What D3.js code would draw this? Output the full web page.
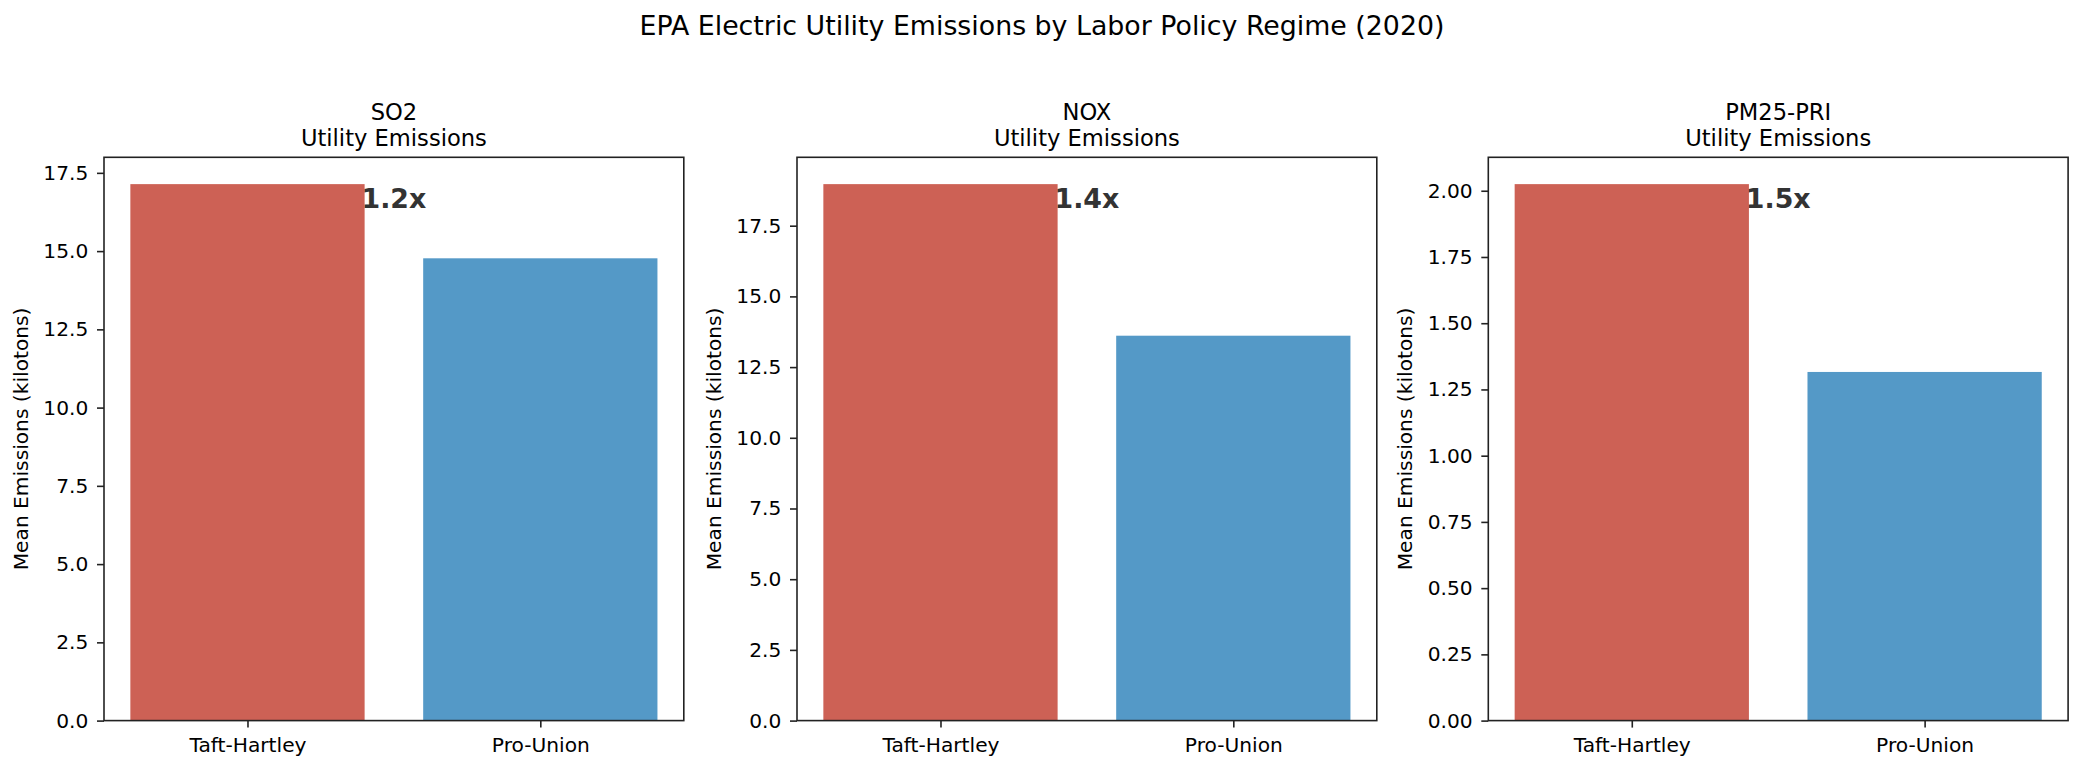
<!DOCTYPE html>
<html>
<head>
<meta charset="utf-8">
<script src="https://cdn.jsdelivr.net/npm/d3@7"></script>
<style>
  html, body { margin: 0; padding: 0; background: #fff; }
  svg { display: block; }
  text { font-family: "DejaVu Sans", sans-serif; }
</style>
</head>
<body>
<svg id="chart" width="2084" height="771"></svg>
<script>
// ---- data ----
const categories = ["Taft-Hartley", "Pro-Union"];
const pollutants = ["SO2", "NOX", "PM25-PRI"];
const taftHartley = [17.14, 18.97, 2.025];
const proUnion = [14.77, 13.61, 1.316];
const yTicksSO2 = [0, 2.5, 5, 7.5, 10, 12.5, 15, 17.5];
const yTicksNOX = [0, 2.5, 5, 7.5, 10, 12.5, 15, 17.5];
const yTicksPM = [0, 0.25, 0.5, 0.75, 1, 1.25, 1.5, 1.75, 2];
const yTickDecimals = [1, 1, 2];
const suptitle = "EPA Electric Utility Emissions by Labor Policy Regime (2020)";
const subtitle = "Utility Emissions";
const yLabel = "Mean Emissions (kilotons)";

// ---- layout ----
const W = 2084, H = 771;
const panelLefts = [104, 797, 1488.3];
const panelW = 579.8;
const plotTop = 157.3, plotBottom = 720.6;
const colors = ["#CD6155", "#5499C7"];
const yTicksAll = [yTicksSO2, yTicksNOX, yTicksPM];

const svg = d3.select("#chart");

svg.append("text")
  .attr("x", W / 2).attr("y", 35)
  .attr("text-anchor", "middle")
  .attr("font-size", "26.8px")
  .attr("fill", "#000")
  .text(suptitle);

pollutants.forEach((p, i) => {
  const left = panelLefts[i];
  const vals = [taftHartley[i], proUnion[i]];
  const ymax = d3.max(vals) * 1.05;
  const x = d3.scaleLinear().domain([-0.49, 1.49]).range([left, left + panelW]);
  const y = d3.scaleLinear().domain([0, ymax]).range([plotBottom, plotTop]);
  const g = svg.append("g");

  // bars
  g.selectAll("rect.bar").data(vals).enter().append("rect")
    .attr("class", "bar")
    .attr("x", (d, j) => x(j - 0.4))
    .attr("width", (d, j) => x(j + 0.4) - x(j - 0.4))
    .attr("y", d => y(d))
    .attr("height", d => y(0) - y(d))
    .attr("fill", (d, j) => colors[j]);

  // ratio annotation
  const ratio = (vals[0] / vals[1]).toFixed(1) + "x";
  g.append("text")
    .attr("x", x(0.5))
    .attr("y", y(vals[0]) + 23.5)
    .attr("text-anchor", "middle")
    .attr("font-size", "26.8px")
    .attr("font-weight", "bold")
    .attr("fill", "#333333")
    .text(ratio);

  // y axis
  const yAxis = d3.axisLeft(y)
    .tickValues(yTicksAll[i])
    .tickFormat(d3.format("." + yTickDecimals[i] + "f"))
    .tickSize(7).tickPadding(8.7);
  const ya = g.append("g").attr("transform", `translate(${left},0)`).call(yAxis);
  ya.select(".domain").remove();
  ya.selectAll(".tick line").attr("stroke", "#222").attr("stroke-width", 1.6);
  ya.selectAll(".tick text").attr("font-size", "20.2px").attr("fill", "#000")
    .attr("font-family", "DejaVu Sans");

  // x axis
  const xAxis = d3.axisBottom(x)
    .tickValues([0, 1])
    .tickFormat((d) => categories[d])
    .tickSize(7).tickPadding(10.5);
  const xa = g.append("g").attr("transform", `translate(0,${plotBottom})`).call(xAxis);
  xa.select(".domain").remove();
  xa.selectAll(".tick line").attr("stroke", "#222").attr("stroke-width", 1.6);
  xa.selectAll(".tick text").attr("font-size", "20.2px").attr("fill", "#000")
    .attr("font-family", "DejaVu Sans");

  // frame
  g.append("rect")
    .attr("x", left).attr("y", plotTop)
    .attr("width", panelW).attr("height", plotBottom - plotTop)
    .attr("fill", "none").attr("stroke", "#222").attr("stroke-width", 1.6);

  // titles
  const cx = left + panelW / 2;
  g.append("text").attr("x", cx).attr("y", 120)
    .attr("text-anchor", "middle").attr("font-size", "22.6px").attr("fill", "#000")
    .text(p);
  g.append("text").attr("x", cx).attr("y", 145.7)
    .attr("text-anchor", "middle").attr("font-size", "22.6px").attr("fill", "#000")
    .text(subtitle);

  // y label
  g.append("text")
    .attr("transform", `translate(${left - 76},${(plotTop + plotBottom) / 2}) rotate(-90)`)
    .attr("text-anchor", "middle")
    .attr("font-size", "20.2px").attr("fill", "#000")
    .text(yLabel);
});
</script>
</body>
</html>
